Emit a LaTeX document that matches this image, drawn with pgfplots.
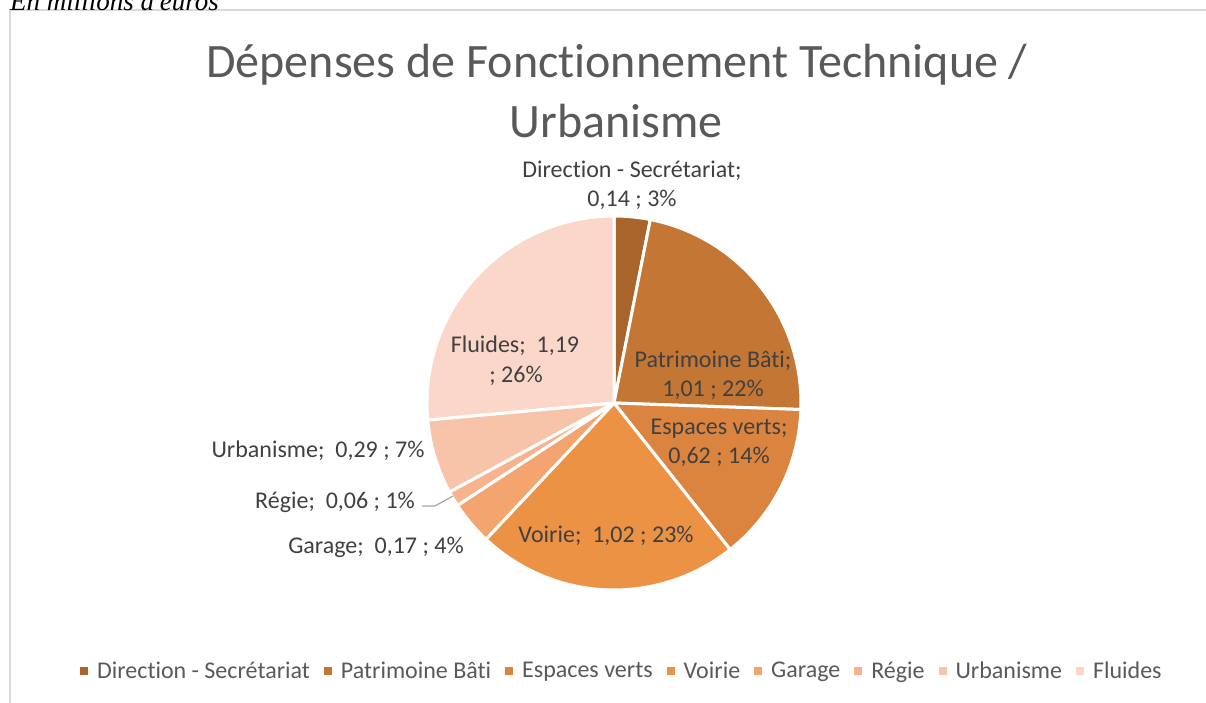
\documentclass[border=0pt]{standalone}
\usepackage{pgfplots}
\pgfplotsset{compat=1.18}
\usepackage{fontspec}
\setmainfont{Carlito}[Ligatures=NoCommon]
\newfontfamily\seriffont{Liberation Serif}
\definecolor{c1}{HTML}{A8642B}
\definecolor{c2}{HTML}{C47634}
\definecolor{c3}{HTML}{DB843F}
\definecolor{c4}{HTML}{EC9245}
\definecolor{c5}{HTML}{F4A46E}
\definecolor{c6}{HTML}{F6B38E}
\definecolor{c7}{HTML}{F8C4A9}
\definecolor{c8}{HTML}{FAD7C9}
\definecolor{txt}{HTML}{404040}
\definecolor{ttl}{HTML}{595959}
\definecolor{frm}{HTML}{D9D9D9}
% values (millions d'euros)
\def\vA{0.14}\def\vB{1.01}\def\vC{0.62}\def\vD{1.02}
\def\vE{0.17}\def\vF{0.06}\def\vG{0.29}\def\vH{1.19}
\pgfmathsetmacro\tot{\vA+\vB+\vC+\vD+\vE+\vF+\vG+\vH}
\pgfmathsetmacro\aA{90}
\pgfmathsetmacro\aB{\aA-360*\vA/\tot}
\pgfmathsetmacro\aC{\aB-360*\vB/\tot}
\pgfmathsetmacro\aD{\aC-360*\vC/\tot}
\pgfmathsetmacro\aE{\aD-360*\vD/\tot}
\pgfmathsetmacro\aF{\aE-360*\vE/\tot}
\pgfmathsetmacro\aG{\aF-360*\vF/\tot}
\pgfmathsetmacro\aH{\aG-360*\vG/\tot}
\pgfmathsetmacro\aI{\aH-360*\vH/\tot}
\begin{document}
\begin{tikzpicture}[x=1pt,y=1pt]
\useasboundingbox (0,0) rectangle (1206,702);
\clip (0,0) rectangle (1206,702);
\draw[frm, line width=1.2pt] (10,-5) -- (10,692) -- (1215,692);
\node[anchor=base west, inner sep=0pt, font=\seriffont\itshape\fontsize{27}{31}\selectfont, text=black] at (10,691) {En millions d'euros};
\begin{axis}[at={(614pt,299pt)}, anchor=center, x=187pt, y=187pt,
  xmin=-1.05, xmax=1.05, ymin=-1.05, ymax=1.05, hide axis, clip=false,
  every axis plot/.append style={draw=white, line width=3pt, line join=round, samples=60},
  legend columns=8,
  legend style={draw=none, fill=none, at={(0.5175,-0.1815)}, anchor=center,
    font=\fontsize{24}{28}\selectfont, text=ttl, nodes={inner xsep=0pt},
    /tikz/every odd column/.append style={column sep=9pt},
    /tikz/every even column/.append style={column sep=14pt}},
  legend image code/.code={\fill[#1, draw=none] (0pt,-4pt) rectangle (8pt,4pt);},
]
\addplot[fill=c1, domain=\aB:\aA] ({cos(x)},{sin(x)}) -- (axis cs:0,0) -- cycle;
\addplot[fill=c2, domain=\aC:\aB] ({cos(x)},{sin(x)}) -- (axis cs:0,0) -- cycle;
\addplot[fill=c3, domain=\aD:\aC] ({cos(x)},{sin(x)}) -- (axis cs:0,0) -- cycle;
\addplot[fill=c4, domain=\aE:\aD] ({cos(x)},{sin(x)}) -- (axis cs:0,0) -- cycle;
\addplot[fill=c5, domain=\aF:\aE] ({cos(x)},{sin(x)}) -- (axis cs:0,0) -- cycle;
\addplot[fill=c6, domain=\aG:\aF] ({cos(x)},{sin(x)}) -- (axis cs:0,0) -- cycle;
\addplot[fill=c7, domain=\aH:\aG] ({cos(x)},{sin(x)}) -- (axis cs:0,0) -- cycle;
\addplot[fill=c8, domain=\aI:\aH] ({cos(x)},{sin(x)}) -- (axis cs:0,0) -- cycle;
\legend{Direction - Secrétariat, Patrimoine Bâti, Espaces verts, Voirie, Garage, Régie, Urbanisme, Fluides}
\end{axis}
% title
\begin{scope}[every node/.style={inner sep=0pt, text=ttl, font=\fontsize{48}{58}\selectfont}]
\node[anchor=base] at (617,624) {Dépenses de Fonctionnement Technique /};
\node[anchor=base] at (616,564) {Urbanisme};
\end{scope}
% data labels
\begin{scope}[every node/.style={inner sep=0pt, text=txt, anchor=mid, font=\fontsize{24}{28}\selectfont}]
\node at (632,527) {Direction - Secrétariat;};
\node at (632,498) {0,14 ; 3\%};
\node at (713,337) {Patrimoine Bâti;};
\node at (713,308) {1,01 ; 22\%};
\node at (719,270) {Espaces verts;};
\node at (719,241) {0,62 ; 14\%};
\node at (606,162) {Voirie;~ 1,02 ; 23\%};
\node at (376,151) {Garage;~ 0,17 ; 4\%};
\node at (335,196) {Régie;~ 0,06 ; 1\%};
\node at (318,247) {Urbanisme;~ 0,29 ; 7\%};
\node at (515,352) {Fluides;~ 1,19};
\node at (516,322) {; 26\%};
\end{scope}
\draw[color=gray!70, line width=1.2pt] (422,196) -- (435,196) -- (453,206);
\end{tikzpicture}
\end{document}
